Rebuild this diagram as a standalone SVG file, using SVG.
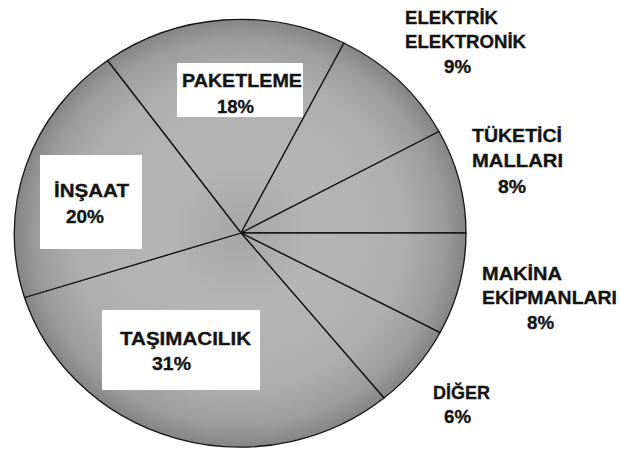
<svg xmlns="http://www.w3.org/2000/svg" width="620" height="451" viewBox="0 0 620 451">
  <defs>
    <radialGradient id="pieFill" gradientUnits="userSpaceOnUse" cx="240" cy="233" r="226" gradientTransform="translate(240 233) scale(1 0.947) translate(-240 -233)">
      <stop offset="0" stop-color="#a6a6a6"/>
      <stop offset="0.35" stop-color="#b5b5b5"/>
      <stop offset="0.72" stop-color="#afafaf"/>
      <stop offset="0.9" stop-color="#9c9c9c"/>
      <stop offset="1" stop-color="#858585"/>
    </radialGradient>
  </defs>
  <style>
    .slice { fill: url(#pieFill); stroke: #151515; stroke-width: 1.3; stroke-linejoin: round; }
    .box { fill: #ffffff; stroke: none; }
    .lbl { font-family: "Liberation Sans", Arial, sans-serif; font-weight: bold; font-size: 19px; fill: #141414; stroke: #141414; stroke-width: 0.35; }
  </style>
  <rect x="0" y="0" width="620" height="451" fill="#ffffff"/>

  <g id="slice-paketleme">
    <path class="slice" d="M241 233 L107.5 60.5 A226 214 0 0 1 344 43 Z"/>
  </g>
  <g id="slice-elektrik">
    <path class="slice" d="M241 233 L344 43 A226 214 0 0 1 439 131.5 Z"/>
  </g>
  <g id="slice-tuketici">
    <path class="slice" d="M241 233 L439 131.5 A226 214 0 0 1 466 233 Z"/>
  </g>
  <g id="slice-makina">
    <path class="slice" d="M241 233 L466 233 A226 214 0 0 1 440 332.7 Z"/>
  </g>
  <g id="slice-diger">
    <path class="slice" d="M241 233 L440 332.7 A226 214 0 0 1 384 398 Z"/>
  </g>
  <g id="slice-tasimacilik">
    <path class="slice" d="M241 233 L384 398 A226 214 0 0 1 24.5 297.5 Z"/>
  </g>
  <g id="slice-insaat">
    <path class="slice" d="M241 233 L24.5 297.5 A226 214 0 0 1 107.5 60.5 Z"/>
  </g>

  <g id="label-paketleme">
    <rect class="box" x="177" y="63" width="126" height="54"/>
    <text class="lbl" x="182" y="87" textLength="120" lengthAdjust="spacingAndGlyphs">PAKETLEME</text>
    <text class="lbl" x="217" y="113" textLength="37" lengthAdjust="spacingAndGlyphs">18%</text>
  </g>
  <g id="label-insaat">
    <rect class="box" x="40" y="155" width="102" height="94"/>
    <text class="lbl" x="54" y="197" textLength="75" lengthAdjust="spacingAndGlyphs">İNŞAAT</text>
    <text class="lbl" x="66" y="222.5" textLength="38" lengthAdjust="spacingAndGlyphs">20%</text>
  </g>
  <g id="label-tasimacilik">
    <rect class="box" x="102" y="310" width="158" height="80"/>
    <text class="lbl" x="120" y="345" textLength="131" lengthAdjust="spacingAndGlyphs">TAŞIMACILIK</text>
    <text class="lbl" x="152" y="370" textLength="39" lengthAdjust="spacingAndGlyphs">31%</text>
  </g>
  <g id="label-elektrik">
    <text class="lbl" x="405" y="23.5" textLength="93" lengthAdjust="spacingAndGlyphs">ELEKTRİK</text>
    <text class="lbl" x="405" y="47.5" textLength="121" lengthAdjust="spacingAndGlyphs">ELEKTRONİK</text>
    <text class="lbl" x="444" y="72.5" textLength="27" lengthAdjust="spacingAndGlyphs">9%</text>
  </g>
  <g id="label-tuketici">
    <text class="lbl" x="472" y="141.5" textLength="90" lengthAdjust="spacingAndGlyphs">TÜKETİCİ</text>
    <text class="lbl" x="472" y="166.5" textLength="91" lengthAdjust="spacingAndGlyphs">MALLARI</text>
    <text class="lbl" x="498" y="192.5" textLength="28" lengthAdjust="spacingAndGlyphs">8%</text>
  </g>
  <g id="label-makina">
    <text class="lbl" x="482" y="279.5" textLength="80" lengthAdjust="spacingAndGlyphs">MAKİNA</text>
    <text class="lbl" x="482" y="303.5" textLength="135" lengthAdjust="spacingAndGlyphs">EKİPMANLARI</text>
    <text class="lbl" x="527" y="328.5" textLength="27" lengthAdjust="spacingAndGlyphs">8%</text>
  </g>
  <g id="label-diger">
    <text class="lbl" x="433" y="398.5" textLength="57" lengthAdjust="spacingAndGlyphs">DİĞER</text>
    <text class="lbl" x="444" y="422.5" textLength="27" lengthAdjust="spacingAndGlyphs">6%</text>
  </g>
</svg>
